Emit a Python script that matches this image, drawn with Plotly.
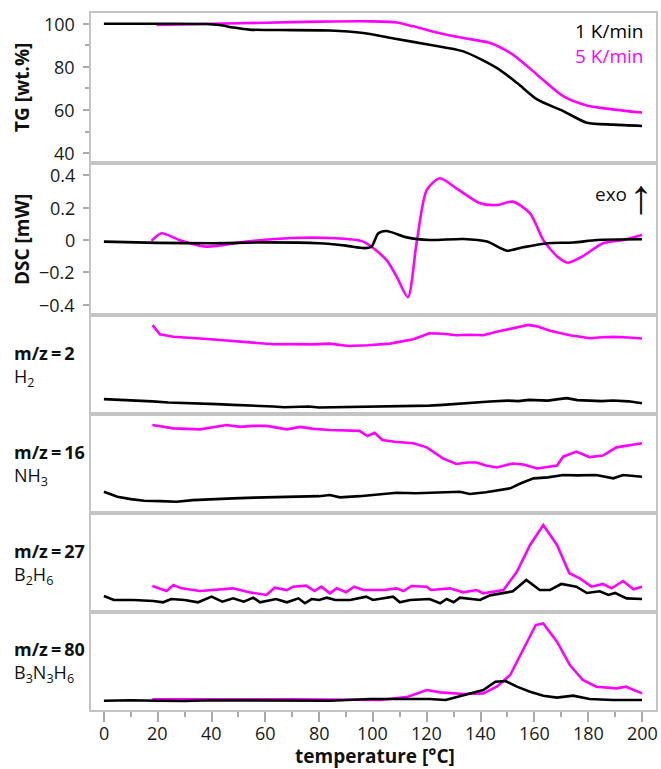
import plotly.graph_objects as go

W, H = 661, 769
FONT = "Open Sans"
BLACK = "#000000"
MAG = "#ff00ff"

# ---------------- data ----------------
tg_1_T = [0, 20, 38, 43, 48, 54, 65, 84, 96.4, 108.8, 121, 133.6, 146, 153.5, 161, 170.7, 179.5, 189.3, 200]
tg_1_v = [100, 100, 99.9, 99.4, 98.3, 97.3, 97.1, 96.9, 95.7, 92.9, 90.3, 87.2, 79.5, 72.6, 64.9, 59.5, 54.1, 53.2, 52.6]
tg_5_T = [19.6, 25, 40, 60, 80, 100, 108.8, 115, 121, 127.4, 133.6, 143.5, 152, 161, 170.7, 179.5, 189, 200]
tg_5_v = [99.5, 99.6, 100, 100.5, 101, 101.1, 100.6, 98.8, 96.8, 94.9, 93.4, 91.1, 85.7, 76.4, 66.4, 62.1, 60.3, 58.8]

dsc_1_T = [0, 20, 40, 60, 80, 90, 97, 99.5, 102, 105, 112.6, 121, 133.6, 142.4, 149.8, 155.8, 164.7, 174.4, 183.3, 200]
dsc_1_v = [-0.01, -0.018, -0.02, -0.015, -0.02, -0.035, -0.05, -0.04, 0.041, 0.055, 0.016, 0.0, 0.006, -0.01, -0.066, -0.045, -0.02, -0.016, 0.0, 0.004]
dsc_5_T = [17.7, 21.4, 28, 38, 53, 70, 84, 96.4, 105, 108.8, 113, 116.2, 120, 124.9, 131, 139.8, 146, 152, 158.4, 163.3, 168.4, 172.5, 178, 185.5, 193, 200]
dsc_5_v = [-0.006, 0.041, 0.0, -0.041, -0.01, 0.012, 0.012, -0.01, -0.123, -0.226, -0.353, -0.02, 0.308, 0.38, 0.318, 0.226, 0.215, 0.236, 0.164, 0.0, -0.10, -0.14, -0.10, -0.02, 0.0, 0.03]

ms2_1_T = [0, 6, 12, 18, 24, 30, 36, 42, 48, 53, 58, 63, 67, 72, 76, 80, 84, 90, 96, 102, 108, 114, 121, 126, 132, 138, 143.5, 150, 154, 158, 162, 165, 169, 172, 176, 180.7, 185, 189.3, 195, 200]
ms2_1_v = [0.15, 0.145, 0.135, 0.128, 0.116, 0.112, 0.105, 0.1, 0.092, 0.088, 0.08, 0.076, 0.068, 0.072, 0.075, 0.066, 0.068, 0.064, 0.068, 0.07, 0.075, 0.08, 0.085, 0.092, 0.105, 0.115, 0.126, 0.135, 0.13, 0.143, 0.14, 0.135, 0.15, 0.16, 0.14, 0.136, 0.13, 0.136, 0.128, 0.109]
ms2_5_T = [18.1, 20.8, 25.8, 30, 35.7, 42, 48, 55, 63, 70, 77, 84, 90.8, 98, 106.3, 115, 121, 126, 131, 136, 141, 146, 153.5, 157.7, 161, 165.8, 173.2, 180.7, 185, 189.3, 195, 200]
ms2_5_v = [0.898, 0.806, 0.78, 0.775, 0.762, 0.75, 0.738, 0.72, 0.704, 0.706, 0.703, 0.711, 0.687, 0.695, 0.711, 0.755, 0.816, 0.81, 0.796, 0.8, 0.796, 0.83, 0.874, 0.9, 0.885, 0.84, 0.796, 0.765, 0.775, 0.779, 0.772, 0.762]

ms16_1_T = [0, 5, 10, 14.9, 21, 27, 33, 40, 48, 56, 64, 73, 80, 84, 87.7, 95, 102, 108.8, 116, 124, 132.3, 136, 142, 151, 155, 159.7, 165, 170.7, 176, 183, 189.3, 193, 200]
ms16_1_v = [0.215, 0.165, 0.14, 0.124, 0.12, 0.114, 0.13, 0.135, 0.148, 0.155, 0.16, 0.172, 0.17, 0.182, 0.158, 0.17, 0.185, 0.205, 0.2, 0.21, 0.215, 0.192, 0.21, 0.249, 0.3, 0.35, 0.36, 0.384, 0.38, 0.384, 0.35, 0.384, 0.367]
ms16_5_T = [18, 25.8, 35.7, 40, 45.6, 50.6, 55, 60.5, 68, 72.9, 78, 84, 90, 95, 98, 100.6, 103.5, 108, 115, 120, 126, 131, 135, 138.5, 142, 146, 152, 156, 161, 168.4, 170.7, 175.6, 180.5, 185.5, 190.5, 196, 200]
ms16_5_v = [0.889, 0.855, 0.845, 0.865, 0.889, 0.87, 0.88, 0.88, 0.845, 0.87, 0.85, 0.838, 0.835, 0.83, 0.778, 0.81, 0.737, 0.72, 0.704, 0.663, 0.552, 0.495, 0.51, 0.51, 0.48, 0.46, 0.5, 0.49, 0.45, 0.48, 0.569, 0.62, 0.565, 0.58, 0.663, 0.69, 0.704]

ms27_1_T = [0, 3.7, 11, 18.4, 22, 25, 30, 35, 40, 44, 48, 52, 55.5, 58, 64, 68, 72.3, 74.7, 77.2, 80, 82.8, 86, 91.5, 97.5, 100, 104, 107.5, 110, 113.8, 121, 125, 127.4, 130, 132.3, 139.8, 143.5, 148.5, 152, 157, 162, 165.8, 170, 175.6, 179.5, 184.3, 187.5, 190, 194.3, 200]
ms27_1_v = [0.162, 0.121, 0.121, 0.111, 0.098, 0.131, 0.121, 0.098, 0.155, 0.104, 0.138, 0.104, 0.145, 0.098, 0.131, 0.098, 0.138, 0.088, 0.131, 0.121, 0.145, 0.121, 0.121, 0.155, 0.121, 0.138, 0.155, 0.098, 0.121, 0.131, 0.088, 0.131, 0.098, 0.145, 0.121, 0.168, 0.192, 0.209, 0.323, 0.222, 0.222, 0.283, 0.256, 0.192, 0.209, 0.172, 0.192, 0.138, 0.131]
ms27_5_T = [18, 23.3, 25.8, 28.9, 35.7, 41.7, 48, 54, 60.4, 63.5, 68, 70.3, 75.2, 78.3, 80.8, 84, 86.5, 90, 93, 96.4, 104, 108.8, 111.3, 114.3, 120, 121.5, 128.6, 133.6, 138.5, 141, 146, 148.5, 153.5, 158.4, 163.3, 168.4, 173, 176.9, 181.2, 185.5, 188.7, 193, 196.8, 200]
ms27_5_v = [0.263, 0.212, 0.273, 0.239, 0.212, 0.222, 0.239, 0.199, 0.172, 0.246, 0.222, 0.256, 0.266, 0.212, 0.256, 0.189, 0.239, 0.199, 0.256, 0.222, 0.222, 0.239, 0.212, 0.263, 0.256, 0.222, 0.239, 0.199, 0.222, 0.189, 0.212, 0.222, 0.407, 0.677, 0.879, 0.677, 0.391, 0.34, 0.256, 0.283, 0.239, 0.313, 0.229, 0.256]

ms80_1_T = [0, 10, 20, 30, 40, 50, 60, 70, 84, 99, 110, 121, 127, 133.6, 141, 145.5, 149.3, 153.5, 158.4, 163.3, 168.4, 174.4, 180.5, 189.3, 200]
ms80_1_v = [0.095, 0.1, 0.095, 0.092, 0.1, 0.098, 0.095, 0.1, 0.095, 0.112, 0.112, 0.112, 0.102, 0.153, 0.204, 0.289, 0.296, 0.238, 0.187, 0.146, 0.126, 0.146, 0.112, 0.102, 0.102]
ms80_5_T = [18, 30, 40, 50, 60, 70, 84, 102.8, 113, 120, 125, 133.6, 141, 146, 151, 156, 160.5, 163.3, 168.4, 173.2, 178, 183, 186.6, 190.5, 194, 200]
ms80_5_v = [0.11, 0.108, 0.112, 0.11, 0.108, 0.11, 0.109, 0.102, 0.136, 0.204, 0.18, 0.163, 0.17, 0.238, 0.357, 0.629, 0.867, 0.884, 0.697, 0.459, 0.306, 0.238, 0.231, 0.221, 0.238, 0.17]

x_ticks = [0, 20, 40, 60, 80, 100, 120, 140, 160, 180, 200]
x_ticktext = [str(t) for t in x_ticks]
tg_ticks = [40, 60, 80, 100]
tg_ticktext = ["40", "60", "80", "100"]
dsc_ticks = [-0.4, -0.2, 0, 0.2, 0.4]
dsc_ticktext = ["\u22120.4", "\u22120.2", "0", "0.2", "0.4"]

series_names = ["1 K/min", "5 K/min"]
ms_names = ["m/z\u2009=\u20092", "m/z\u2009=\u200916", "m/z\u2009=\u200927", "m/z\u2009=\u200980"]
ms_species = ["H<sub>2</sub>", "NH<sub>3</sub>", "B<sub>2</sub>H<sub>6</sub>",
              "B<sub>3</sub>N<sub>3</sub>H<sub>6</sub>"]

# ---------------- layout helpers ----------------
def py(p):
    return 1 - p / H

def px(p):
    return p / W

panels = [(13, 163), (163, 315), (315, 414), (414, 513), (513, 612), (612, 710)]
yranges = [[35.4, 105], [-0.462, 0.474], [0, 1], [0, 1], [0, 1], [0, 1]]

series = [
    (tg_1_T, tg_1_v, tg_5_T, tg_5_v, "spline"),
    (dsc_1_T, dsc_1_v, dsc_5_T, dsc_5_v, "spline"),
    (ms2_1_T, ms2_1_v, ms2_5_T, ms2_5_v, "linear"),
    (ms16_1_T, ms16_1_v, ms16_5_T, ms16_5_v, "linear"),
    (ms27_1_T, ms27_1_v, ms27_5_T, ms27_5_v, "linear"),
    (ms80_1_T, ms80_1_v, ms80_5_T, ms80_5_v, "linear"),
]

fig = go.Figure()
LINE_COLOR = "#c4c4c4"
TICK_COLOR = "#aaaaaa"
TXT = "#111111"
TICK_FONT = dict(family=FONT, size=18, color="#1a1a1a")

layout = dict(
    width=W, height=H, margin=dict(l=0, r=0, t=0, b=0),
    paper_bgcolor="white", plot_bgcolor="white", showlegend=False,
    font=dict(family=FONT),
)

for i, (top, bot) in enumerate(panels):
    n = i + 1
    xa = "x" if n == 1 else f"x{n}"
    ya = "y" if n == 1 else f"y{n}"
    xkey = "xaxis" if n == 1 else f"xaxis{n}"
    ykey = "yaxis" if n == 1 else f"yaxis{n}"
    T1, v1, T5, v5, shp = series[i]
    for T, v, c in ((T5, v5, MAG), (T1, v1, BLACK)):
        fig.add_trace(go.Scatter(x=T, y=v, mode="lines", xaxis=xa, yaxis=ya,
                                 line=dict(color=c, width=2.6, shape=shp, smoothing=0.7),
                                 hoverinfo="skip"))
    xd = dict(domain=[px(91), px(656)], range=[-4.8, 205.2], anchor=ya,
              showline=True, mirror=True, linecolor=LINE_COLOR, linewidth=2,
              showgrid=False, zeroline=False, fixedrange=True, showticklabels=False)
    if n != 6:
        xd.update(ticks="", matches="x6")
    else:
        xd.update(tickvals=x_ticks, ticks="outside", ticklen=10, tickwidth=1.5,
                  tickcolor=TICK_COLOR,
                  minor=dict(dtick=10, tick0=0, ticks="outside", ticklen=5,
                             tickwidth=1.5, tickcolor=TICK_COLOR))
    yd = dict(domain=[py(bot), py(top)], range=yranges[i], anchor=xa,
              showline=True, mirror=True, linecolor=LINE_COLOR, linewidth=2,
              showgrid=False, zeroline=False, fixedrange=True, showticklabels=False)
    if i == 0:
        yd.update(tickvals=tg_ticks, ticks="outside", ticklen=6, tickwidth=1.5,
                  tickcolor=TICK_COLOR,
                  minor=dict(tickvals=[50, 70, 90], ticks="outside", ticklen=4,
                             tickwidth=1.5, tickcolor=TICK_COLOR))
    elif i == 1:
        yd.update(tickvals=dsc_ticks, ticks="outside", ticklen=6, tickwidth=1.5,
                  tickcolor=TICK_COLOR)
    else:
        yd.update(ticks="")
    layout[xkey] = xd
    layout[ykey] = yd

ann = []
# tick labels (placed from the tick arrays)
for v, t in zip(x_ticks, x_ticktext):
    ann.append(dict(text=t, x=v, xref="x6", y=py(733), yref="paper",
                    xanchor="center", yanchor="middle", showarrow=False, borderpad=0,
                    font=TICK_FONT))
for v, t in zip(tg_ticks, tg_ticktext):
    ann.append(dict(text=t, x=px(76), xref="paper", y=v, yref="y",
                    xanchor="right", yanchor="middle", showarrow=False, borderpad=0,
                    font=TICK_FONT))
for v, t in zip(dsc_ticks, dsc_ticktext):
    ann.append(dict(text=t, x=px(76), xref="paper", y=v, yref="y2",
                    xanchor="right", yanchor="middle", showarrow=False, borderpad=0,
                    font=TICK_FONT))
# axis titles
ann.append(dict(text="<b>TG [wt.%]</b>", x=px(22), y=py(88), xref="paper", yref="paper",
                xanchor="center", yanchor="middle", textangle=-90, showarrow=False,
                font=dict(family=FONT, size=19, color=TXT)))
ann.append(dict(text="<b>DSC [mW]</b>", x=px(22), y=py(240), xref="paper", yref="paper",
                xanchor="center", yanchor="middle", textangle=-90, showarrow=False,
                font=dict(family=FONT, size=19, color=TXT)))
ann.append(dict(text="<b>temperature [°C]</b>", x=px(375), y=py(756), xref="paper", yref="paper",
                xanchor="center", yanchor="middle", showarrow=False, borderpad=0,
                font=dict(family=FONT, size=19, color=TXT)))
# legend texts (one two-line text, coloured per series)
ann.append(dict(text=f"{series_names[0]}<br><span style='color:{MAG}'>{series_names[1]}</span>",
                x=px(645), y=py(43.5), xref="paper", yref="paper",
                xanchor="right", yanchor="middle", align="right", showarrow=False,
                font=dict(family=FONT, size=19, color=BLACK)))
# exo arrow
ann.append(dict(text="exo", x=px(629), y=py(194), xref="paper", yref="paper",
                xanchor="right", yanchor="middle", showarrow=False,
                font=dict(family=FONT, size=19, color=TXT)))
ann.append(dict(text="\u2191", x=px(641), y=py(196), xref="paper", yref="paper",
                xanchor="center", yanchor="middle", showarrow=False,
                font=dict(family="Liberation Sans", size=48, color=TXT)))
# MS labels (two-line, one annotation each)
ms_centers = [365.5, 464.5, 564, 661.5]
for name, species, yc in zip(ms_names, ms_species, ms_centers):
    ann.append(dict(text=f"<b>{name}</b><br>{species}", x=px(12), y=py(yc),
                    xref="paper", yref="paper", xanchor="left", yanchor="middle",
                    align="left", showarrow=False,
                    font=dict(family=FONT, size=18, color=TXT)))

layout["annotations"] = ann
fig.update_layout(**layout)
fig.write_html("out.html")
